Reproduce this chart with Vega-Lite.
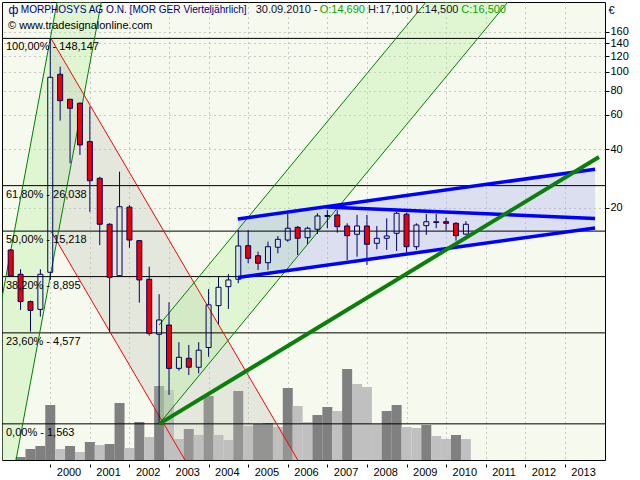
{
 "$schema": "https://vega.github.io/schema/vega-lite/v6.json",
 "width": 603, "height": 458,
 "autosize": {"type": "none"},
 "padding": {"left": 2, "top": 2, "right": 35, "bottom": 20},
 "background": "white",
 "config": {"view": {"fill": "#f6f9ee", "stroke": "black", "strokeWidth": 1}, "font": "Liberation Sans"},
 "datasets": {
  "q": [
   {"t":1999.0,"o":12.18,"h":12.3,"l":8.9,"c":8.96,"v":0,"vd":"down"},
   {"t":1999.25,"o":9.14,"h":9.7,"l":6.0,"c":6.62,"v":3,"vd":"up"},
   {"t":1999.5,"o":6.62,"h":6.7,"l":4.64,"c":5.97,"v":11,"vd":"up"},
   {"t":1999.75,"o":6.04,"h":9.7,"l":5.55,"c":9.14,"v":14,"vd":"up"},
   {"t":2000.0,"o":9.36,"h":148.147,"l":8.55,"c":93.6,"v":55,"vd":"up"},
   {"t":2000.25,"o":97.0,"h":106.1,"l":56.1,"c":71.0,"v":11,"vd":"down"},
   {"t":2000.5,"o":72.2,"h":72.5,"l":33.9,"c":64.9,"v":14,"vd":"up"},
   {"t":2000.75,"o":68.9,"h":69.5,"l":37.4,"c":42.1,"v":8,"vd":"down"},
   {"t":2001.0,"o":43.8,"h":66.2,"l":19.1,"c":27.6,"v":18,"vd":"up"},
   {"t":2001.25,"o":28.4,"h":28.9,"l":12.9,"c":16.5,"v":15,"vd":"down"},
   {"t":2001.5,"o":16.5,"h":16.7,"l":4.64,"c":8.82,"v":16,"vd":"up"},
   {"t":2001.75,"o":8.99,"h":30.7,"l":8.9,"c":20.3,"v":57,"vd":"up"},
   {"t":2002.0,"o":20.2,"h":20.7,"l":12.5,"c":13.7,"v":12,"vd":"down"},
   {"t":2002.25,"o":13.6,"h":13.7,"l":6.54,"c":8.55,"v":38,"vd":"up"},
   {"t":2002.5,"o":8.62,"h":10.0,"l":4.43,"c":4.55,"v":23,"vd":"down"},
   {"t":2002.75,"o":4.5,"h":7.22,"l":1.563,"c":5.33,"v":74,"vd":"up"},
   {"t":2003.0,"o":5.02,"h":6.57,"l":2.2,"c":3.01,"v":70,"vd":"down"},
   {"t":2003.25,"o":3.01,"h":4.1,"l":2.93,"c":3.43,"v":21,"vd":"down"},
   {"t":2003.5,"o":3.39,"h":3.97,"l":2.78,"c":3.05,"v":31,"vd":"up"},
   {"t":2003.75,"o":3.05,"h":4.1,"l":2.84,"c":3.73,"v":25,"vd":"down"},
   {"t":2004.0,"o":3.85,"h":7.68,"l":3.45,"c":6.37,"v":64,"vd":"up"},
   {"t":2004.25,"o":6.31,"h":8.89,"l":5.09,"c":7.84,"v":25,"vd":"down"},
   {"t":2004.5,"o":7.9,"h":9.17,"l":6.07,"c":8.55,"v":20,"vd":"down"},
   {"t":2004.75,"o":8.62,"h":15.4,"l":8.22,"c":12.77,"v":69,"vd":"up"},
   {"t":2005.0,"o":12.82,"h":15.4,"l":10.41,"c":11.04,"v":34,"vd":"down"},
   {"t":2005.25,"o":11.38,"h":11.94,"l":9.62,"c":10.41,"v":36,"vd":"up"},
   {"t":2005.5,"o":10.48,"h":13.43,"l":9.62,"c":12.66,"v":37,"vd":"up"},
   {"t":2005.75,"o":12.58,"h":14.37,"l":11.71,"c":13.82,"v":33,"vd":"down"},
   {"t":2006.0,"o":13.7,"h":18.63,"l":13.43,"c":15.74,"v":72,"vd":"up"},
   {"t":2006.25,"o":15.92,"h":16.17,"l":11.48,"c":13.98,"v":54,"vd":"down"},
   {"t":2006.5,"o":14.08,"h":16.04,"l":13.07,"c":15.74,"v":38,"vd":"down"},
   {"t":2006.75,"o":15.55,"h":18.79,"l":14.71,"c":18.2,"v":45,"vd":"up"},
   {"t":2007.0,"o":18.1,"h":19.5,"l":15.74,"c":18.3,"v":53,"vd":"up"},
   {"t":2007.25,"o":18.42,"h":19.5,"l":14.94,"c":16.04,"v":49,"vd":"down"},
   {"t":2007.5,"o":16.17,"h":16.69,"l":10.82,"c":14.42,"v":91,"vd":"up"},
   {"t":2007.75,"o":14.66,"h":18.42,"l":11.25,"c":16.17,"v":76,"vd":"down"},
   {"t":2008.0,"o":16.17,"h":18.42,"l":10.2,"c":13.03,"v":73,"vd":"down"},
   {"t":2008.25,"o":13.18,"h":16.17,"l":12.28,"c":13.98,"v":36,"vd":"down"},
   {"t":2008.5,"o":13.98,"h":17.71,"l":12.19,"c":14.37,"v":49,"vd":"up"},
   {"t":2008.75,"o":14.83,"h":19.14,"l":12.04,"c":18.79,"v":55,"vd":"up"},
   {"t":2009.0,"o":18.57,"h":18.92,"l":11.8,"c":12.66,"v":33,"vd":"down"},
   {"t":2009.25,"o":12.66,"h":16.69,"l":12.19,"c":16.36,"v":32,"vd":"down"},
   {"t":2009.5,"o":16.23,"h":18.63,"l":14.54,"c":17.01,"v":35,"vd":"up"},
   {"t":2009.75,"o":16.85,"h":18.63,"l":15.74,"c":17.0,"v":24,"vd":"down"},
   {"t":2010.0,"o":17.01,"h":17.84,"l":15.3,"c":16.69,"v":21,"vd":"down"},
   {"t":2010.25,"o":16.69,"h":16.9,"l":13.59,"c":14.42,"v":25,"vd":"up"},
   {"t":2010.5,"o":14.69,"h":17.1,"l":14.5,"c":16.5,"v":21,"vd":"down"}
  ],
  "fib": [
   {"lv":148.147,"lab":"100,00% - 148,147"},
   {"lv":26.038,"lab":"61,80% - 26,038"},
   {"lv":15.218,"lab":"50,00% - 15,218"},
   {"lv":8.895,"lab":"38,20% - 8,895"},
   {"lv":4.577,"lab":"23,60% - 4,577"},
   {"lv":1.563,"lab":"0,00% - 1,563"}
  ],
  "hz": [
   {"p":295.4,"t1":2000.276,"t2":2001.394},
   {"p":0.8057,"t1":1997.923,"t2":1999.041}
  ],
  "va": [
   {"id":"red","t":2000.017,"p1":148.15,"p2":15.22},
   {"id":"red","t":2006.253,"p1":1.02,"p2":0.1048},
   {"id":"greenB","t":2002.75,"p1":5.024,"p2":1.563},
   {"id":"greenB","t":2012.77,"p1":1452,"p2":451.3},
   {"id":"blue","t":2004.738,"p1":17.56,"p2":8.8},
   {"id":"blue","t":2013.764,"p1":31.6,"p2":15.8}
  ],
  "ln": [
   {"id":"redU","t":2000.017,"p":148.15},{"id":"redU","t":2006.253,"p":1.02},
   {"id":"redL","t":2000.017,"p":15.22},{"id":"redL","t":2003.404,"p":1.02},
   {"id":"gA1","t":2000.276,"p":295.4},{"id":"gA1","t":1997.923,"p":0.8057},
   {"id":"gA2","t":2001.394,"p":295.4},{"id":"gA2","t":1999.041,"p":0.8057},
   {"id":"gB1","t":2002.75,"p":5.024},{"id":"gB1","t":2012.77,"p":1452},
   {"id":"gB2","t":2002.75,"p":1.563},{"id":"gB2","t":2012.77,"p":451.3},
   {"id":"blueU","t":2004.738,"p":17.56},{"id":"blueU","t":2013.764,"p":31.6},
   {"id":"blueM","t":2006.957,"p":20.24},{"id":"blueM","t":2013.764,"p":17.67},
   {"id":"blueL","t":2004.738,"p":8.8},{"id":"blueL","t":2013.764,"p":15.8},
   {"id":"trend","t":2002.75,"p":1.563},{"id":"trend","t":2013.863,"p":36.5}
  ]
 },
 "resolve": {"scale": {"y": "independent"}},
 "layer": [
  {
   "data": {"name": "q"},
   "mark": {"type": "bar", "size": 10},
   "encoding": {
    "x": {"field": "t", "type": "quantitative", "scale": {"domain": [1998.907, 2013.888], "nice": false, "zero": false},
     "axis": {"values": [2000,2001,2002,2003,2004,2005,2006,2007,2008,2009,2010,2011,2012,2013], "format": "d", "title": null, "domain": false,
      "tickSize": 7, "tickDash": [0,4,3,20], "tickColor": "black", "labelAlign": "left", "labelOffset": 6, "labelBaseline": "top", "labelPadding": -1,
      "labelFont": "Liberation Sans", "labelFontSize": 11, "labelColor": "black", "labelFlush": false, "labelOverlap": false,
      "grid": true, "gridColor": "#999999", "gridDash": [1,4]}},
    "y": {"field": "v", "type": "quantitative", "scale": {"domain": [0, 458], "nice": false}, "axis": null},
    "fill": {"field": "vd", "type": "nominal", "scale": {"domain": ["up","down"], "range": ["#808080","#c0c0c0"]}, "legend": null}
   }
  },
  {
   "encoding": {
    "x": {"type": "quantitative", "scale": {"domain": [1998.907, 2013.888], "nice": false, "zero": false}},
    "y": {"type": "quantitative", "scale": {"type": "log", "domain": [1.02, 227.7], "nice": false}}
   },
   "layer": [
    {
     "data": {"name": "hz"},
     "mark": {"type": "area", "orient": "horizontal", "clip": true, "fill": "#b8f0a0", "fillOpacity": 0.35},
     "encoding": {
      "y": {"field": "p", "type": "quantitative",
       "axis": {"orient": "right", "values": [20,40,60,80,100,120,140,160], "format": "d", "title": "€", "titleAngle": 0, "titleAlign": "left", "titleBaseline": "middle",
        "titleX": 3, "titleY": 8, "titleFont": "Liberation Sans", "titleFontSize": 11, "titleFontWeight": "normal", "titleColor": "black",
        "domain": false, "tickSize": 4, "tickColor": "black", "labelPadding": 1, "labelFont": "Liberation Sans", "labelFontSize": 11, "labelColor": "black",
        "labelBaseline": "middle", "labelOverlap": false, "labelFlush": false, "grid": true, "gridColor": "#999999", "gridDash": [1,4]}},
      "x": {"field": "t1", "type": "quantitative"},
      "x2": {"field": "t2"}
     }
    },
    {
     "data": {"name": "va"},
     "transform": [{"filter": {"field": "id", "equal": "red"}}],
     "mark": {"type": "area", "clip": true, "fill": "#bec0b6", "fillOpacity": 0.32},
     "encoding": {
      "x": {"field": "t", "type": "quantitative"},
      "y": {"field": "p1", "type": "quantitative", "stack": null},
      "y2": {"field": "p2"}
     }
    },
    {
     "data": {"name": "va"},
     "transform": [{"filter": {"field": "id", "equal": "greenB"}}],
     "mark": {"type": "area", "clip": true, "fill": "#b8f0a0", "fillOpacity": 0.35},
     "encoding": {
      "x": {"field": "t", "type": "quantitative"},
      "y": {"field": "p1", "type": "quantitative", "stack": null},
      "y2": {"field": "p2"}
     }
    },
    {
     "data": {"name": "va"},
     "transform": [{"filter": {"field": "id", "equal": "blue"}}],
     "mark": {"type": "area", "clip": true, "fill": "#a8b0f0", "fillOpacity": 0.35},
     "encoding": {
      "x": {"field": "t", "type": "quantitative"},
      "y": {"field": "p1", "type": "quantitative", "stack": null},
      "y2": {"field": "p2"}
     }
    },
    {
     "data": {"name": "fib"},
     "mark": {"type": "rule", "color": "black", "strokeWidth": 1},
     "encoding": {
      "y": {"field": "lv", "type": "quantitative"}
     }
    },
    {
     "data": {"name": "ln"},
     "transform": [{"filter": {"field": "id", "oneOf": ["redU","redL"]}}],
     "mark": {"type": "line", "clip": true, "color": "#ff0000", "strokeWidth": 1},
     "encoding": {
      "x": {"field": "t", "type": "quantitative"},
      "y": {"field": "p", "type": "quantitative"},
      "detail": {"field": "id"}
     }
    },
    {
     "data": {"name": "ln"},
     "transform": [{"filter": {"field": "id", "oneOf": ["gA1","gA2","gB1","gB2"]}}],
     "mark": {"type": "line", "clip": true, "color": "#008000", "strokeWidth": 1},
     "encoding": {
      "x": {"field": "t", "type": "quantitative"},
      "y": {"field": "p", "type": "quantitative"},
      "detail": {"field": "id"}
     }
    },
    {
     "data": {"name": "q"},
     "transform": [{"filter": "datum.c >= datum.o"}],
     "mark": {"type": "rule", "color": "#000066", "strokeWidth": 1},
     "encoding": {
      "x": {"field": "t", "type": "quantitative"},
      "y": {"field": "h", "type": "quantitative"},
      "y2": {"field": "c"}
     }
    },
    {
     "data": {"name": "q"},
     "transform": [{"filter": "datum.c >= datum.o"}],
     "mark": {"type": "rule", "color": "#000066", "strokeWidth": 1},
     "encoding": {
      "x": {"field": "t", "type": "quantitative"},
      "y": {"field": "o", "type": "quantitative"},
      "y2": {"field": "l"}
     }
    },
    {
     "data": {"name": "q"},
     "transform": [{"filter": "datum.c < datum.o"}],
     "mark": {"type": "rule", "color": "#000066", "strokeWidth": 1},
     "encoding": {
      "x": {"field": "t", "type": "quantitative"},
      "y": {"field": "h", "type": "quantitative"},
      "y2": {"field": "o"}
     }
    },
    {
     "data": {"name": "q"},
     "transform": [{"filter": "datum.c < datum.o"}],
     "mark": {"type": "rule", "color": "#000066", "strokeWidth": 1},
     "encoding": {
      "x": {"field": "t", "type": "quantitative"},
      "y": {"field": "c", "type": "quantitative"},
      "y2": {"field": "l"}
     }
    },
    {
     "data": {"name": "q"},
     "mark": {"type": "bar", "size": 5, "stroke": "#000066", "strokeWidth": 1},
     "encoding": {
      "x": {"field": "t", "type": "quantitative"},
      "y": {"field": "o", "type": "quantitative", "stack": null},
      "y2": {"field": "c"},
      "fill": {"condition": {"test": "datum.c < datum.o", "value": "#ee0000"}, "value": "transparent"}
     }
    },
    {
     "data": {"name": "ln"},
     "transform": [{"filter": {"field": "id", "oneOf": ["blueU","blueM","blueL"]}}],
     "mark": {"type": "line", "clip": true, "color": "#0000ff", "strokeWidth": 3.5},
     "encoding": {
      "x": {"field": "t", "type": "quantitative"},
      "y": {"field": "p", "type": "quantitative"},
      "detail": {"field": "id"}
     }
    },
    {
     "data": {"name": "ln"},
     "transform": [{"filter": {"field": "id", "oneOf": ["trend"]}}],
     "mark": {"type": "line", "clip": true, "color": "#0a800a", "strokeWidth": 4},
     "encoding": {
      "x": {"field": "t", "type": "quantitative"},
      "y": {"field": "p", "type": "quantitative"},
      "detail": {"field": "id"}
     }
    },
    {
     "data": {"name": "fib"},
     "mark": {"type": "text", "align": "left", "baseline": "middle", "dy": 9, "dx": -1, "font": "Liberation Sans", "fontSize": 11, "color": "black", "clip": true},
     "encoding": {
      "x": {"datum": 1998.907, "type": "quantitative"},
      "y": {"field": "lv", "type": "quantitative"},
      "text": {"field": "lab"}
     }
    },
    {
     "data": {"values": [{"txt": "ф"}]},
     "mark": {"type": "text", "align": "center", "baseline": "middle", "font": "Liberation Sans", "fontSize": 12, "color": "#000080"},
     "encoding": {
      "x": {"datum": 1999.068, "type": "quantitative"},
      "y": {"datum": 207.2, "type": "quantitative"},
      "text": {"field": "txt"}
     }
    },
    {
     "data": {"values": [{"txt": "MORPHOSYS AG O.N. [MOR GER  Vierteljährlich]"}]},
     "mark": {"type": "text", "align": "left", "baseline": "middle", "font": "Liberation Sans", "fontSize": 10.1, "color": "#000080"},
     "encoding": {
      "x": {"datum": 1999.255, "type": "quantitative"},
      "y": {"datum": 207.2, "type": "quantitative"},
      "text": {"field": "txt"}
     }
    },
    {
     "data": {"values": [{"txt": "30.09.2010 -"}]},
     "mark": {"type": "text", "align": "left", "baseline": "middle", "font": "Liberation Sans", "fontSize": 11, "color": "#101030"},
     "encoding": {
      "x": {"datum": 2005.19, "type": "quantitative"},
      "y": {"datum": 207.2, "type": "quantitative"},
      "text": {"field": "txt"}
     }
    },
    {
     "data": {"values": [{"txt": "O:14,690"}]},
     "mark": {"type": "text", "align": "left", "baseline": "middle", "font": "Liberation Sans", "fontSize": 11, "color": "#00a800"},
     "encoding": {
      "x": {"datum": 2006.807, "type": "quantitative"},
      "y": {"datum": 207.2, "type": "quantitative"},
      "text": {"field": "txt"}
     }
    },
    {
     "data": {"values": [{"txt": "H:17,100 L:14,500"}]},
     "mark": {"type": "text", "align": "left", "baseline": "middle", "font": "Liberation Sans", "fontSize": 11, "color": "#101030"},
     "encoding": {
      "x": {"datum": 2008.025, "type": "quantitative"},
      "y": {"datum": 207.2, "type": "quantitative"},
      "text": {"field": "txt"}
     }
    },
    {
     "data": {"values": [{"txt": "C:16,500"}]},
     "mark": {"type": "text", "align": "left", "baseline": "middle", "font": "Liberation Sans", "fontSize": 11, "color": "#00a800"},
     "encoding": {
      "x": {"datum": 2010.385, "type": "quantitative"},
      "y": {"datum": 207.2, "type": "quantitative"},
      "text": {"field": "txt"}
     }
    },
    {
     "data": {"values": [{"txt": "© www.tradesignalonline.com"}]},
     "mark": {"type": "text", "align": "left", "baseline": "middle", "font": "Liberation Sans", "fontSize": 11, "color": "black"},
     "encoding": {
      "x": {"datum": 1998.932, "type": "quantitative"},
      "y": {"datum": 171.5, "type": "quantitative"},
      "text": {"field": "txt"}
     }
    }
   ]
  }
 ]
}
